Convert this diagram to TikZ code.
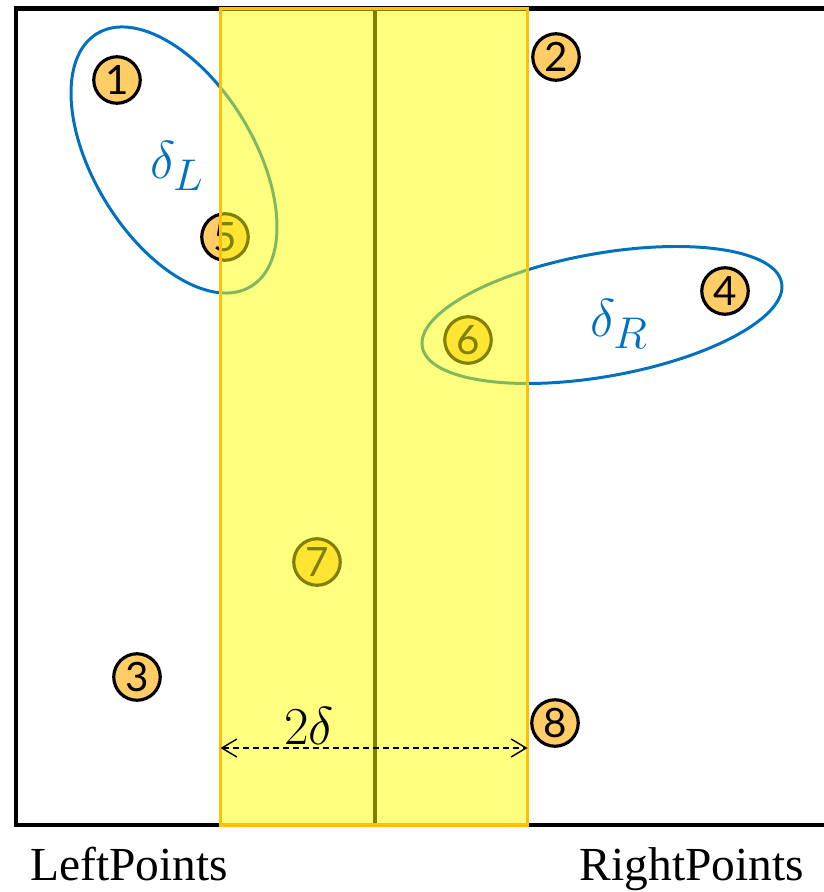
\documentclass[tikz,border=0pt]{standalone}
\usepackage{fontspec}
\setmainfont{Liberation Serif}
\newfontfamily\digitfont{Lato}
\usetikzlibrary{arrows.meta,positioning}
\definecolor{ptorange}{HTML}{FFCC66}
\definecolor{setblue}{HTML}{0070C0}
\definecolor{stripedge}{HTML}{FFC000}
\definecolor{stripfill}{HTML}{FFFF00}
\tikzset{
  pt/.style={circle, draw=black, line width=1.8pt, fill=ptorange, minimum size=0.93cm, inner sep=0pt, font=\digitfont\fontsize{23}{23}\selectfont},
  frame/.style={draw=black, line width=2.3pt},
  setline/.style={draw=setblue, line width=1.7pt},
  bigmath/.style={font=\fontsize{24.88}{25}\selectfont, scale=1.22, transform shape},
  setlabel/.style={bigmath, text=setblue},
  strip/.style={fill=stripfill, fill opacity=0.5, draw=stripedge, line width=2.2pt},
  width/.style={dashed, dash pattern=on 3.4pt off 2.3pt, line width=0.8pt, {Straight Barb[length=3mm,width=3.6mm]}-{Straight Barb[length=3mm,width=3.6mm]}},
  side/.style={anchor=base, font=\fontsize{27}{27}\selectfont}
}

\begin{document}
\begin{tikzpicture}[x=0.02cm, y=-0.02cm]
  \useasboundingbox (0,0) rectangle (823,892);
  % outer box and dividing line
  \draw[frame] (840,8.5) -- (16,8.5) -- (16,825) -- (840,825);
  \draw[frame] (375,8.5) -- (375,825);
  % delta neighbourhoods
  \coordinate (cL) at (174,160);
  \coordinate (cR) at (602,315);
  \draw[setline, rotate around={-58.6:(cL)}] (cL) ellipse [x radius=148, y radius=80];
  \draw[setline, rotate around={10.1:(cR)}] (cR) ellipse [x radius=182.5, y radius=61.5];
  \node[setlabel] (dL) at (177,166) {$\delta_L$};
  \node[setlabel] (dR) at (619,324) {$\delta_R$};
  % points
  \node[pt] (p1) at (117,80) {1};
  \node[pt] (p2) at (556,57) {2};
  \node[pt] (p3) at (137,677) {3};
  \node[pt] (p4) at (725,291) {4};
  \node[pt] (p5) at (225,237) {5};
  \node[pt] (p6) at (468,340) {6};
  \node[pt] (p7) at (317,562) {7};
  \node[pt] (p8) at (555,723) {8};
  % strip of width 2 delta
  \draw[strip] (220.5,8.5) rectangle (527.5,825);
  \coordinate (sl) at (220.5,748);
  \coordinate (sr) at (527.5,748);
  \draw[width] (sl) -- (sr);
  \node[bigmath] (w) at (309,726) {$2\delta$};
  \node[side] (left) at (129,880) {LeftPoints};
  \node[side] (right) at (692,880) {RightPoints};
\end{tikzpicture}
\end{document}
